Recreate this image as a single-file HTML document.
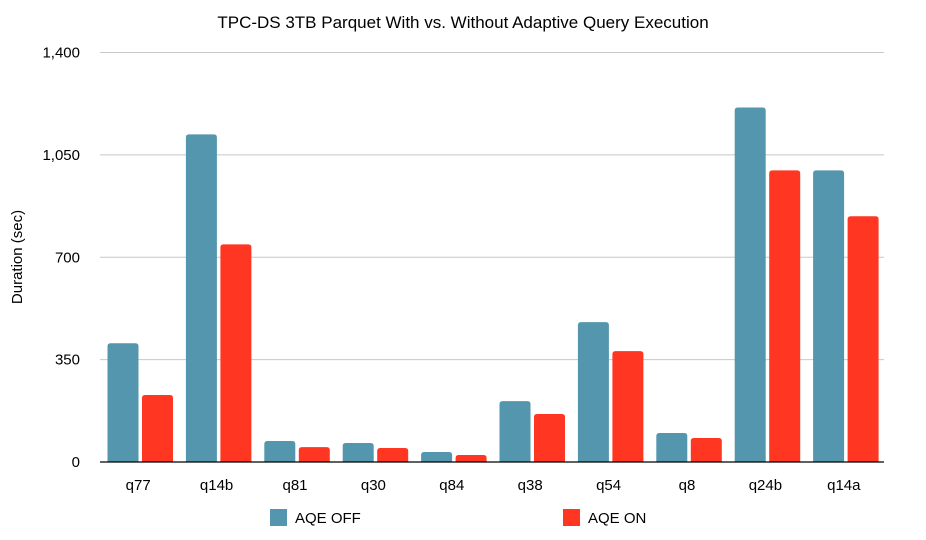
<!DOCTYPE html>
<html><head><meta charset="utf-8"><style>
body{margin:0;background:#fff;font-family:"Liberation Sans",Arial,sans-serif}
svg text{font-family:"Liberation Sans",Arial,sans-serif}
</style></head><body>
<svg id="chart" width="926" height="535">
<text x="463" y="28" text-anchor="middle" font-size="17" fill="#000">TPC-DS 3TB Parquet With vs. Without Adaptive Query Execution</text>
<text transform="translate(22,257) rotate(-90)" text-anchor="middle" font-size="15" fill="#000">Duration (sec)</text>
<g id="grid"></g><g id="bars"></g><g id="xlabels"></g>
<line x1="100" x2="884" y1="462" y2="462" stroke="#000" stroke-width="1.2"/>
<rect x="270" y="509" width="17" height="17" fill="#5496ae"/>
<text x="295" y="523" font-size="15">AQE OFF</text>
<rect x="563" y="509" width="17" height="17" fill="#ff3622"/>
<text x="588" y="523" font-size="15">AQE ON</text>
</svg>
<script>
const categories=["q77","q14b","q81","q30","q84","q38","q54","q8","q24b","q14a"];
const aqeOff=[406,1120,72,65,34,208,478,99,1212,997];
const aqeOn=[229,744,51,48,24,164,379,82,997,840];
const yTicks=[0,350,700,1050,1400];
const yTickLabels=["0","350","700","1,050","1,400"];
const NS="http://www.w3.org/2000/svg";
const x0=100,x1=884,y0=462,yTop=52.5,yMax=1400;
const y=v=>y0-(v/yMax)*(y0-yTop);
const gw=(x1-x0)/categories.length;
const grid=document.getElementById('grid'),bars=document.getElementById('bars'),xl=document.getElementById('xlabels');
yTicks.forEach((t,i)=>{
 if(t>0){const l=document.createElementNS(NS,'line');
 l.setAttribute('x1',x0);l.setAttribute('x2',x1);l.setAttribute('y1',y(t));l.setAttribute('y2',y(t));
 l.setAttribute('stroke','#c8c8c8');
 
 
 grid.appendChild(l);}
 const tx=document.createElementNS(NS,'text');
 tx.setAttribute('x',80);tx.setAttribute('y',y(t)+5);tx.setAttribute('text-anchor','end');tx.setAttribute('font-size','15');
 tx.textContent=yTickLabels[i];
 
 
 grid.appendChild(tx);
});
function bar(xp,v,color){
 const r=document.createElementNS(NS,'path');
 const w=31,top=y(v),rr=3;
 r.setAttribute('d',`M${xp},${y0}V${top+rr}Q${xp},${top} ${xp+rr},${top}H${xp+w-rr}Q${xp+w},${top} ${xp+w},${top+rr}V${y0}Z`);
 r.setAttribute('fill',color);
 return r;
}
categories.forEach((c,i)=>{
 const gx=x0+i*gw;
 const b1=bar(gx+7.5,aqeOff[i],'#5496ae');
 
 
 bars.appendChild(b1);
 const b2=bar(gx+42,aqeOn[i],'#ff3622');
 
 
 bars.appendChild(b2);
 const t=document.createElementNS(NS,'text');
 t.setAttribute('x',gx+gw/2-1);t.setAttribute('y',490);t.setAttribute('text-anchor','middle');t.setAttribute('font-size','15');
 t.textContent=c;
 
 
 xl.appendChild(t);
});
</script>
</body></html>
